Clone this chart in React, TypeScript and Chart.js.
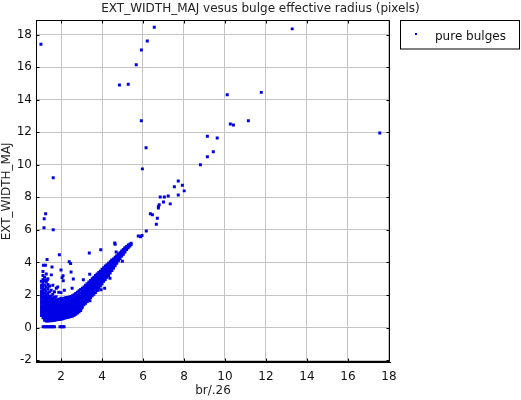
import React, { useEffect, useRef } from "react";
import { Chart, registerables } from "chart.js";

Chart.register(...registerables);

const TITLE = "EXT_WIDTH_MAJ vesus bulge effective radius (pixels)";
const X_LABEL = "br/.26";
const Y_LABEL = "EXT_WIDTH_MAJ";
const SERIES_LABEL = "pure bulges";

const X_TICKS = [2, 4, 6, 8, 10, 12, 14, 16, 18];
const Y_TICKS = [-2, 0, 2, 4, 6, 8, 10, 12, 14, 16, 18];
const X_RANGE = [0.78, 18.05];
const Y_RANGE = [-2.13, 18.87];

// isolated points
const scatterPoints: [number, number][] = [
  [1.02, 17.4], [1.62, 9.2], [4.85, 14.9], [5.28, 14.95], [5.67, 16.15], [5.92, 17.05], [6.21, 17.6], [6.55, 18.45],
  [5.92, 12.7], [6.15, 11.05], [5.97, 9.75],
  [10.11, 14.3], [10.26, 12.5], [10.41, 12.45], [11.14, 12.7], [11.77, 14.45], [13.28, 18.35], [17.55, 11.95],
  [9.14, 11.75], [9.62, 11.65], [9.14, 10.5], [9.43, 10.8], [8.8, 10.0],
  [7.72, 9.0], [7.92, 8.75], [7.53, 8.65], [8.01, 8.4], [7.72, 8.15], [6.84, 8.02], [7.04, 8.02], [7.23, 8.08],
  [7.33, 7.6], [7.0, 7.72], [6.79, 7.55], [6.75, 7.42], [6.75, 7.35], [6.36, 7.0], [6.46, 6.93], [6.7, 6.72], [6.65, 6.35],
  [6.16, 5.93], [5.77, 5.63], [5.88, 5.58], [5.95, 5.66],
  [4.62, 5.2], [4.64, 5.12], [4.69, 4.65], [3.94, 4.78], [3.38, 4.59], [4.99, 4.08], [4.39, 3.03], [3.95, 2.33],
  [3.41, 1.65], [2.99, 1.19], [3.8, 2.3], [4.13, 2.42],
  [1.25, 7.0], [1.18, 6.69], [1.17, 6.14], [1.62, 6.01], [1.92, 4.47], [1.32, 4.18], [1.14, 3.83], [1.24, 3.83],
  [2.4, 4.04], [2.47, 3.93], [2.0, 3.54], [2.49, 3.42], [2.6, 2.99], [2.1, 3.19], [2.11, 2.88], [3.09, 2.94],
  [1.56, 3.72], [2.05, 3.07], [2.54, 2.42], [3.4, 3.28], [1.04, 2.85], [1.53, 3.24], [1.33, 2.93], [1.77, 2.42], [1.89, 2.17],
];

// the row of points sitting near zero
const zeroRowX = [1.13, 1.2, 1.27, 1.34, 1.41, 1.48, 1.55, 1.62, 1.68, 1.95, 2.02, 2.1, 2.15];
const zeroRowY = [0.05, 0.05, 0.06, 0.05, 0.06, 0.05, 0.06, 0.05, 0.06, 0.05, 0.06, 0.05, 0.06];

// dense core: column x and the y values seen in that column
const coreColumns: [number, number[]][] = [
  [1.05, [0.75, 0.9, 1.05, 1.2, 1.35, 1.5, 1.65, 1.8, 1.95, 2.1, 2.25, 2.45, 2.6]],
  [1.12, [0.6, 0.75, 0.9, 1.05, 1.2, 1.35, 1.5, 1.65, 1.8, 1.95, 2.1, 2.3, 2.5, 2.75, 2.95, 3.2, 3.45]],
  [1.2, [0.45, 0.6, 0.75, 0.9, 1.05, 1.2, 1.35, 1.5, 1.65, 1.8, 1.95, 2.15, 2.35, 2.6, 2.9, 3.1]],
  [1.28, [0.4, 0.55, 0.7, 0.85, 1.0, 1.15, 1.3, 1.45, 1.6, 1.75, 1.9, 2.05, 2.25, 2.5, 2.8, 3.3]],
  [1.36, [0.4, 0.55, 0.7, 0.85, 1.0, 1.15, 1.3, 1.45, 1.6, 1.75, 1.9, 2.1, 2.4, 2.65, 3.0]],
  [1.44, [0.42, 0.57, 0.72, 0.87, 1.02, 1.17, 1.32, 1.47, 1.62, 1.77, 1.92, 2.2, 2.55]],
  [1.52, [0.42, 0.57, 0.72, 0.87, 1.02, 1.17, 1.32, 1.47, 1.62, 1.77, 1.95, 2.3]],
  [1.6, [0.44, 0.6, 0.75, 0.9, 1.05, 1.2, 1.35, 1.5, 1.65, 1.8, 2.05, 2.6]],
  [1.68, [0.45, 0.6, 0.75, 0.9, 1.05, 1.2, 1.35, 1.5, 1.65, 1.85, 2.2]],
  [1.76, [0.46, 0.62, 0.78, 0.93, 1.08, 1.23, 1.38, 1.53, 1.7, 1.9]],
  [1.84, [0.5, 0.65, 0.8, 0.95, 1.1, 1.25, 1.4, 1.55, 1.72, 2.5]],
  [1.92, [0.5, 0.65, 0.8, 0.95, 1.1, 1.25, 1.4, 1.55, 1.75]],
  [2.0, [0.52, 0.67, 0.82, 0.97, 1.12, 1.27, 1.42, 1.6, 1.8, 2.15]],
  [2.08, [0.55, 0.7, 0.85, 1.0, 1.15, 1.3, 1.45, 1.62, 1.78]],
  [2.16, [0.58, 0.72, 0.87, 1.02, 1.17, 1.32, 1.47, 1.63, 1.8, 2.3]],
  [2.24, [0.6, 0.75, 0.9, 1.05, 1.2, 1.35, 1.5, 1.65, 1.85]],
  [2.32, [0.62, 0.77, 0.92, 1.07, 1.22, 1.37, 1.52, 1.68, 1.85]],
  [2.4, [0.65, 0.8, 0.95, 1.1, 1.25, 1.4, 1.55, 1.7, 1.88]],
  [2.48, [0.68, 0.83, 0.98, 1.13, 1.28, 1.43, 1.58, 1.74, 1.92]],
  [2.56, [0.72, 0.87, 1.02, 1.17, 1.32, 1.47, 1.62, 1.78, 1.96]],
  [2.64, [0.76, 0.92, 1.07, 1.22, 1.37, 1.52, 1.67, 1.83, 2.02]],
  [2.72, [0.82, 0.98, 1.13, 1.28, 1.43, 1.58, 1.73, 1.9, 2.1]],
  [2.8, [0.9, 1.05, 1.2, 1.35, 1.5, 1.65, 1.8, 1.97, 2.18]],
  [2.88, [0.98, 1.13, 1.28, 1.43, 1.58, 1.73, 1.88, 2.05, 2.26]],
  [2.96, [1.05, 1.2, 1.35, 1.5, 1.65, 1.8, 1.95, 2.12, 2.34]],
  [3.04, [1.25, 1.42, 1.58, 1.74, 1.9, 2.05, 2.22, 2.42]],
  [3.12, [1.4, 1.56, 1.72, 1.87, 2.02, 2.17, 2.32, 2.5]],
  [3.2, [1.5, 1.66, 1.82, 1.97, 2.12, 2.27, 2.42, 2.6]],
  [3.28, [1.6, 1.76, 1.92, 2.07, 2.22, 2.37, 2.53, 2.7]],
  [3.36, [1.75, 1.9, 2.05, 2.2, 2.35, 2.5, 2.65, 2.8]],
  [3.44, [1.85, 2.0, 2.15, 2.3, 2.45, 2.6, 2.75, 2.9]],
  [3.52, [1.95, 2.1, 2.25, 2.4, 2.55, 2.7, 2.85, 3.0]],
  [3.6, [2.05, 2.2, 2.35, 2.5, 2.65, 2.8, 2.95, 3.1]],
  [3.68, [2.15, 2.3, 2.45, 2.6, 2.75, 2.9, 3.05, 3.2]],
  [3.76, [2.3, 2.45, 2.6, 2.75, 2.9, 3.05, 3.2, 3.3]],
  [3.84, [2.45, 2.6, 2.75, 2.9, 3.05, 3.2, 3.38]],
  [3.92, [2.55, 2.7, 2.85, 3.0, 3.15, 3.3, 3.47]],
  [4.0, [2.7, 2.85, 3.0, 3.15, 3.3, 3.45, 3.58]],
  [4.08, [2.85, 3.0, 3.15, 3.3, 3.45, 3.6, 3.68]],
  [4.16, [2.95, 3.1, 3.25, 3.4, 3.55, 3.7, 3.78]],
  [4.24, [3.1, 3.25, 3.4, 3.55, 3.7, 3.87]],
  [4.32, [3.2, 3.35, 3.5, 3.65, 3.8, 3.96]],
  [4.4, [3.35, 3.5, 3.65, 3.8, 3.95, 4.05]],
  [4.48, [3.5, 3.65, 3.8, 3.95, 4.08, 4.15]],
  [4.56, [3.65, 3.8, 3.95, 4.1, 4.22]],
  [4.64, [3.8, 3.95, 4.1, 4.22, 4.32]],
  [4.72, [3.95, 4.1, 4.22, 4.35, 4.42]],
  [4.8, [4.1, 4.22, 4.35, 4.48, 4.52]],
  [4.88, [4.25, 4.38, 4.5, 4.6]],
  [4.96, [4.4, 4.52, 4.63, 4.7]],
  [5.04, [4.5, 4.62, 4.72, 4.8]],
  [5.12, [4.65, 4.76, 4.86, 4.9]],
  [5.2, [4.8, 4.9, 4.98]],
  [5.28, [4.9, 5.0, 5.08]],
  [5.36, [5.02, 5.12]],
  [5.42, [5.1, 5.19]],
];

const POINT_COLOR = "#0000e6";
const FONT = "DejaVu Sans";

const framePlugin = {
  id: "frame",
  afterDraw(chart: any) {
    const { ctx, chartArea } = chart;
    const { left, right, top, bottom } = chartArea;
    const xs = chart.scales.x;
    const ys = chart.scales.y;
    ctx.save();
    ctx.strokeStyle = "#000";
    ctx.lineWidth = 1;
    ctx.beginPath();
    const L = Math.round(left) + 0.5;
    const R = Math.round(right) - 0.5;
    const T = Math.round(top) + 0.5;
    const B = Math.round(bottom) - 0.5;
    ctx.moveTo(L, T);
    ctx.lineTo(R, T);
    ctx.lineTo(R, B);
    ctx.lineTo(L, B);
    ctx.closePath();
    X_TICKS.forEach((v) => {
      const px = Math.round(xs.getPixelForValue(v)) + 0.5;
      ctx.moveTo(px, B);
      ctx.lineTo(px, B - 3);
      ctx.moveTo(px, T);
      ctx.lineTo(px, T + 3);
    });
    Y_TICKS.forEach((v) => {
      const py = Math.round(ys.getPixelForValue(v)) + 0.5;
      ctx.moveTo(L, py);
      ctx.lineTo(L + 3, py);
      ctx.moveTo(R, py);
      ctx.lineTo(R - 3, py);
    });
    ctx.stroke();

    // legend box
    ctx.strokeRect(400.5, 20.5, 119, 28.5);
    ctx.fillStyle = POINT_COLOR;
    ctx.fillRect(415, 33, 2, 2);
    ctx.fillStyle = "#111";
    ctx.font = `12px "${FONT}"`;
    ctx.textBaseline = "middle";
    ctx.textAlign = "left";
    ctx.fillText(chart.data.datasets[0].label, 435, 37);
    ctx.restore();
  },
};

export default function App() {
  const ref = useRef<HTMLCanvasElement | null>(null);

  useEffect(() => {
    if (!ref.current) return;
    const points: { x: number; y: number }[] = [];
    scatterPoints.forEach(([x, y]) => points.push({ x, y }));
    zeroRowX.forEach((x, i) => points.push({ x, y: zeroRowY[i] }));
    coreColumns.forEach(([x, ys]) => ys.forEach((y) => points.push({ x, y })));

    const chart = new Chart(ref.current, {
      type: "scatter",
      data: {
        datasets: [
          {
            label: SERIES_LABEL,
            data: points,
            pointStyle: "rect",
            pointRadius: 2.1,
            pointHoverRadius: 2.1,
            borderWidth: 0,
            backgroundColor: POINT_COLOR,
            borderColor: POINT_COLOR,
          },
        ],
      },
      options: {
        responsive: false,
        devicePixelRatio: 1,
        animation: false,
        events: [],
        layout: { padding: 0 },
        plugins: {
          legend: { display: false },
          tooltip: { enabled: false },
          title: {
            display: true,
            text: TITLE,
            color: "#222",
            font: { family: FONT, size: 12, weight: "normal" },
            padding: { top: 2, bottom: 4 },
          },
        },
        scales: {
          x: {
            type: "linear",
            min: X_RANGE[0],
            max: X_RANGE[1],
            afterBuildTicks: (s: any) => {
              s.ticks = X_TICKS.map((v) => ({ value: v }));
            },
            afterFit: (s: any) => {
              s.height = 37.7;
            },
            grid: { color: "#c4c4c4", lineWidth: 1, drawTicks: false },
            border: { display: true, color: "#000", width: 1 },
            ticks: {
              color: "#111",
              padding: 7,
              maxRotation: 0,
              font: { family: FONT, size: 12 },
            },
            title: {
              display: true,
              text: X_LABEL,
              color: "#222",
              font: { family: FONT, size: 12 },
              padding: { top: 0, bottom: 2 },
            },
          },
          y: {
            type: "linear",
            min: Y_RANGE[0],
            max: Y_RANGE[1],
            afterBuildTicks: (s: any) => {
              s.ticks = Y_TICKS.map((v) => ({ value: v }));
            },
            afterFit: (s: any) => {
              s.width = 36;
            },
            grid: { color: "#c4c4c4", lineWidth: 1, drawTicks: false },
            border: { display: true, color: "#000", width: 1 },
            ticks: {
              color: "#111",
              padding: 4,
              font: { family: FONT, size: 12 },
            },
            title: {
              display: true,
              text: Y_LABEL,
              color: "#222",
              font: { family: FONT, size: 12 },
              padding: { top: 0, bottom: 0 },
            },
          },
          side: {
            type: "linear",
            position: "right",
            display: true,
            min: Y_RANGE[0],
            max: Y_RANGE[1],
            afterFit: (s: any) => {
              s.width = 131;
            },
            grid: { display: false, drawTicks: false },
            border: { display: false },
            ticks: { display: false },
          },
        },
      },
      plugins: [framePlugin],
    });
    return () => chart.destroy();
  }, []);

  return (
    <div style={{ position: "fixed", left: 0, top: 0, width: 521, height: 400, background: "#fff" }}>
      <canvas ref={ref} width={521} height={400} style={{ width: 521, height: 400, display: "block" }} />
    </div>
  );
}
